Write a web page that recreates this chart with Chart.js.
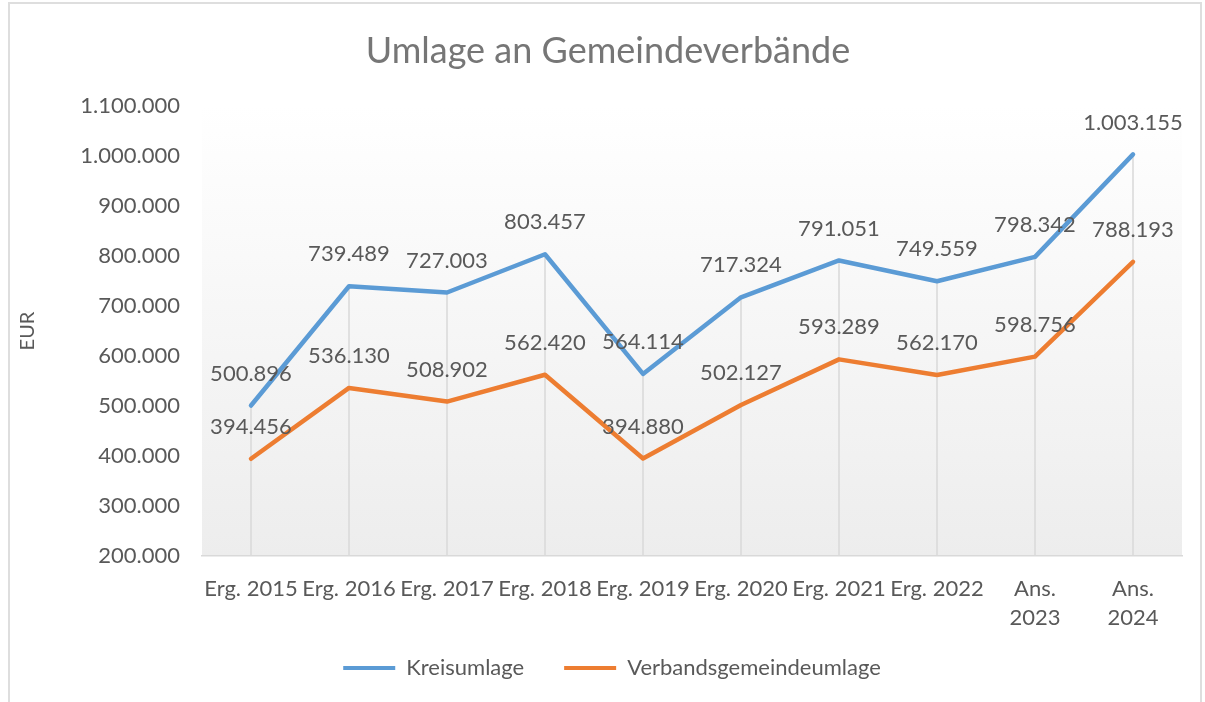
<!DOCTYPE html>
<html>
<head>
<meta charset="utf-8">
<script src="https://cdn.jsdelivr.net/npm/chart.js@4"></script>
<style>
  html, body { margin: 0; padding: 0; background: #fff; }
  #wrap { position: relative; width: 1205px; height: 702px; }
  #frame { position: absolute; left: 8px; top: 2px; width: 1190px; height: 710px;
           border: 2px solid #dedede; pointer-events: none; }
</style>
</head>
<body>
<div id="wrap">
  <canvas id="umlageChart" width="1205" height="702"></canvas>
  <div id="frame"></div>
</div>
<script>
const categories = ['Erg. 2015', 'Erg. 2016', 'Erg. 2017', 'Erg. 2018', 'Erg. 2019',
  'Erg. 2020', 'Erg. 2021', 'Erg. 2022', ['Ans.', '2023'], ['Ans.', '2024']];
const kreisumlage = [500896, 739489, 727003, 803457, 564114, 717324, 791051, 749559, 798342, 1003155];
const verbandsgemeindeumlage = [394456, 536130, 508902, 562420, 394880, 502127, 593289, 562170, 598756, 788193];
const yMin = 200000;
const yMax = 1100000;
const yStep = 100000;

const textColor = '#595959';
const fontFamily = 'Lato, "Open Sans", sans-serif';

function formatDe(v) {
  return String(Math.round(v)).replace(/\B(?=(\d{3})+(?!\d))/g, '.');
}

// plot area gradient (white at top, light grey at bottom)
const plotBackground = {
  id: 'plotBackground',
  beforeDraw(chart) {
    const {ctx, chartArea: a} = chart;
    const g = ctx.createLinearGradient(0, a.top, 0, a.bottom);
    g.addColorStop(0, '#ffffff');
    g.addColorStop(1, '#ededed');
    ctx.save();
    ctx.fillStyle = g;
    ctx.fillRect(a.left, a.top, a.right - a.left, a.bottom - a.top);
    ctx.restore();
  }
};

// drop lines from the highest point down to the category axis
const dropLines = {
  id: 'dropLines',
  beforeDatasetsDraw(chart) {
    const {ctx, chartArea: a, scales: {x, y}} = chart;
    ctx.save();
    ctx.strokeStyle = '#d9d9d9';
    ctx.lineWidth = 1.5;
    categories.forEach((c, i) => {
      const top = Math.max(kreisumlage[i], verbandsgemeindeumlage[i]);
      const px = x.getPixelForValue(i);
      ctx.beginPath();
      ctx.moveTo(px, y.getPixelForValue(top));
      ctx.lineTo(px, a.bottom);
      ctx.stroke();
    });
    ctx.restore();
  }
};

// value labels above each point
const valueLabels = {
  id: 'valueLabels',
  afterDatasetsDraw(chart) {
    const {ctx} = chart;
    ctx.save();
    ctx.font = '22px ' + fontFamily;
    ctx.fillStyle = textColor;
    ctx.textAlign = 'center';
    ctx.textBaseline = 'middle';
    chart.data.datasets.forEach((ds, di) => {
      chart.getDatasetMeta(di).data.forEach((pt, i) => {
        ctx.fillText(formatDe(ds.data[i]), pt.x, pt.y - 32);
      });
    });
    ctx.restore();
  }
};

// nudge the legend and title to where the original has them
const blockShift = {
  id: 'blockShift',
  afterLayout(chart) {
    const lg = chart.legend;
    lg.top -= 13; lg.bottom -= 13;
    lg.left += 21; lg.right += 21;
    const tb = chart.titleBlock;
    tb.left += 17; tb.right += 17;
  }
};

const ctx = document.getElementById('umlageChart').getContext('2d');
new Chart(ctx, {
  type: 'line',
  data: {
    labels: categories,
    datasets: [{
      label: 'Kreisumlage',
      data: kreisumlage,
      borderColor: '#5B9BD5',
      backgroundColor: '#5B9BD5',
      borderWidth: 4.5,
      pointRadius: 0,
      borderJoinStyle: 'round',
      borderCapStyle: 'round',
      tension: 0
    }, {
      label: 'Verbandsgemeindeumlage',
      data: verbandsgemeindeumlage,
      borderColor: '#ED7D31',
      backgroundColor: '#ED7D31',
      borderWidth: 4.5,
      pointRadius: 0,
      borderJoinStyle: 'round',
      borderCapStyle: 'round',
      tension: 0
    }]
  },
  options: {
    responsive: false,
    animation: false,
    layout: { padding: { left: 0, right: 23, top: 0, bottom: 0 } },
    plugins: {
      title: {
        display: true,
        text: 'Umlage an Gemeindeverbände',
        color: '#767676',
        font: { family: fontFamily, size: 36, weight: 'normal' },
        padding: { top: 30, bottom: 32.8 }
      },
      legend: {
        position: 'bottom',
        labels: {
          color: textColor,
          font: { family: fontFamily, size: 22 },
          boxWidth: 52,
          boxHeight: 4,
          padding: 40,
          generateLabels(chart) {
            return Chart.defaults.plugins.legend.labels.generateLabels(chart)
              .map(l => Object.assign(l, { lineWidth: 0 }));
          }
        }
      },
      tooltip: { enabled: false }
    },
    scales: {
      x: {
        offset: true,
        grid: { display: false },
        border: { display: true, color: '#d9d9d9', width: 1.5 },
        ticks: {
          color: textColor,
          font: { family: fontFamily, size: 22, lineHeight: 1.32 },
          padding: 10,
          maxRotation: 0,
          autoSkip: false
        },
        afterFit(scale) { scale.height = 74; }
      },
      y: {
        min: yMin,
        max: yMax,
        grid: { display: false, drawTicks: false },
        border: { display: false },
        ticks: {
          stepSize: yStep,
          color: textColor,
          font: { family: fontFamily, size: 22 },
          padding: 22,
          callback: v => formatDe(v)
        },
        title: {
          display: true,
          text: 'EUR',
          color: textColor,
          font: { family: fontFamily, size: 20 },
          padding: { top: 16, bottom: 0 }
        },
        afterFit(scale) { scale.width = 202; }
      }
    }
  },
  plugins: [plotBackground, dropLines, valueLabels, blockShift]
});
</script>
</body>
</html>
